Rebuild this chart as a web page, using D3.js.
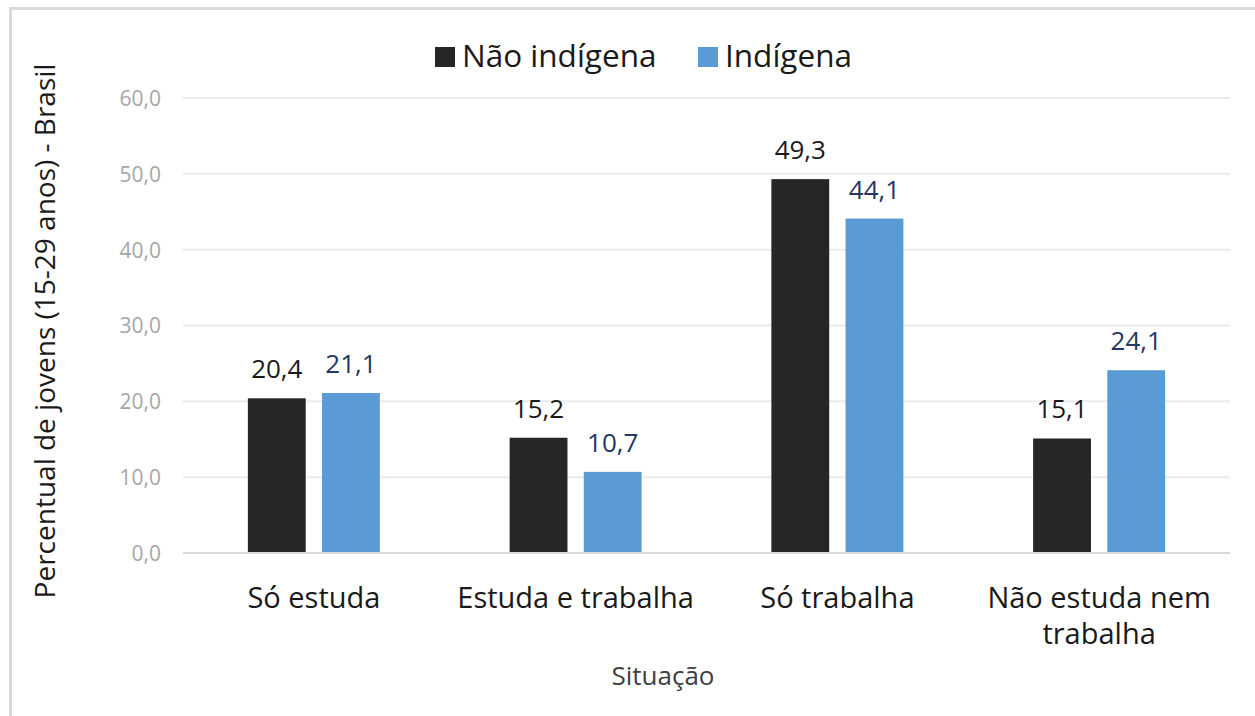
<!DOCTYPE html>
<html lang="pt">
<head>
<meta charset="UTF-8" />
<title>Situação dos jovens</title>
<script src="https://cdn.jsdelivr.net/npm/d3@7"></script>
<style>
  body { margin: 0; padding: 0; background: #fff; }
  text { font-family: "Open Sans", "Noto Sans", sans-serif; }
  .tick text { fill: #a6a6a6; font-size: 21px; }
</style>
</head>
<body>
<svg width="1255" height="716"></svg>
<script>
// data
var categories = ['Só estuda', 'Estuda e trabalha', 'Só trabalha', 'Não estuda nem trabalha'];
var seriesNames = ['Não indígena', 'Indígena'];
var naoIndigena = [20.4, 15.2, 49.3, 15.1];
var indigena = [21.1, 10.7, 44.1, 24.1];
var yTicks = [0, 10, 20, 30, 40, 50, 60];

var colors = ['#262626', '#5b9bd5'];
var labelColors = ['#1a1a1a', '#1f3864'];

var svg = d3.select('svg');
var mLeft = 183, mRight = 1230, mTop = 98, mBottom = 553;

// outer frame
svg.append('rect')
    .attr('x', 10.5).attr('y', 8.5)
    .attr('width', 1260).attr('height', 720)
    .attr('fill', 'none')
    .attr('stroke', '#d9d9d9')
    .attr('stroke-width', 3);

var x = d3.scaleBand().domain(categories).range([mLeft, mRight]);
var x1 = d3.scaleBand().domain(seriesNames).range([x.bandwidth() / 2 - 66, x.bandwidth() / 2 + 66]).paddingInner(0.22);
var y = d3.scaleLinear().domain([0, 60]).range([mBottom, mTop]);

// grid
svg.append('g').selectAll('line').data(yTicks.slice(1)).join('line')
    .attr('x1', mLeft).attr('x2', mRight)
    .attr('y1', d => y(d)).attr('y2', d => y(d))
    .attr('stroke', '#ebebeb').attr('stroke-width', 2);

// y axis labels
var yAxis = svg.append('g')
    .attr('transform', 'translate(' + (mLeft - 22) + ',0)')
    .call(d3.axisLeft(y).tickValues(yTicks).tickSize(0).tickFormat(d => d3.format('.1f')(d).replace('.', ',')));
yAxis.select('.domain').remove();
yAxis.selectAll('text').attr('dy', '0.35em').attr('x', 0);

var series = [naoIndigena, indigena];

var groups = svg.append('g').selectAll('g').data(categories).join('g')
    .attr('transform', d => 'translate(' + x(d) + ',0)');

groups.selectAll('rect').data((d, i) => series.map((s, j) => ({ k: seriesNames[j], v: s[i], j: j }))).join('rect')
    .attr('x', d => x1(d.k))
    .attr('width', x1.bandwidth())
    .attr('y', d => y(d.v))
    .attr('height', d => y(0) - y(d.v))
    .attr('fill', d => colors[d.j]);

groups.selectAll('text.val').data((d, i) => series.map((s, j) => ({ k: seriesNames[j], v: s[i], j: j }))).join('text')
    .attr('class', 'val')
    .attr('x', d => x1(d.k) + x1.bandwidth() / 2)
    .attr('y', d => y(d.v) - 20)
    .attr('text-anchor', 'middle')
    .attr('fill', d => labelColors[d.j])
    .style('font-size', '26px')
    .text(d => d3.format('.1f')(d.v).replace('.', ','));

// x baseline
svg.append('line')
    .attr('x1', mLeft).attr('x2', mRight)
    .attr('y1', y(0)).attr('y2', y(0))
    .attr('stroke', '#d9d9d9').attr('stroke-width', 2);

// category labels
var catLines = [['Só estuda'], ['Estuda e trabalha'], ['Só trabalha'], ['Não estuda nem', 'trabalha']];
categories.forEach(function (c, i) {
    var t = svg.append('text')
        .attr('x', x(c) + x.bandwidth() / 2)
        .attr('y', 608)
        .attr('text-anchor', 'middle')
        .attr('fill', '#1a1a1a')
        .style('font-size', '29px');
    catLines[i].forEach(function (l, k) {
        t.append('tspan').attr('x', x(c) + x.bandwidth() / 2).attr('dy', k ? 36 : 0).text(l);
    });
});

// axis titles
svg.append('text')
    .attr('x', 663).attr('y', 685)
    .attr('text-anchor', 'middle')
    .attr('fill', '#404040')
    .style('font-size', '26px')
    .text('Situação');

svg.append('text')
    .attr('transform', 'translate(55,331) rotate(-90)')
    .attr('text-anchor', 'middle')
    .attr('fill', '#1a1a1a')
    .style('font-size', '28px')
    .text('Percentual de jovens (15-29 anos) - Brasil');

// legend
var legendX = [435, 698];
seriesNames.forEach(function (n, i) {
    svg.append('rect')
        .attr('x', legendX[i]).attr('y', 47)
        .attr('width', 20).attr('height', 20)
        .attr('fill', colors[i]);
    svg.append('text')
        .attr('x', legendX[i] + 27).attr('y', 67)
        .attr('fill', '#1a1a1a')
        .style('font-size', '31.5px')
        .text(n);
});
</script>
</body>
</html>
